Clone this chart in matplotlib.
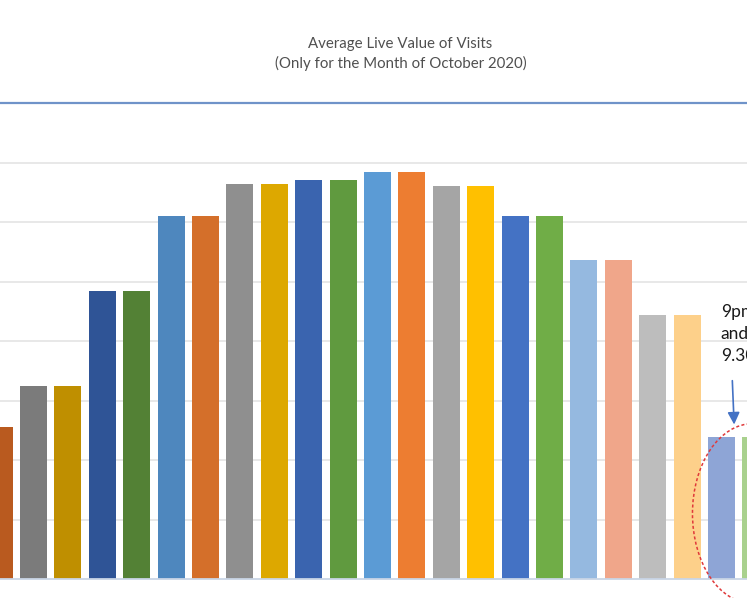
import matplotlib
matplotlib.use("Agg")
import matplotlib.pyplot as plt
from matplotlib.patches import Ellipse

# Half-hour time slots (only the visible part of the chart)
slots = ["10.30am", "11am", "11.30am", "12pm", "12.30pm", "1pm", "1.30pm",
         "2pm", "2.30pm", "3pm", "3.30pm", "4pm", "4.30pm", "5pm", "5.30pm",
         "6pm", "6.30pm", "7pm", "7.30pm", "8pm", "8.30pm", "9pm", "9.30pm"]
values = [2.55, 3.24, 3.24, 4.84, 4.84, 6.10, 6.10, 6.64, 6.64, 6.71, 6.71,
          6.84, 6.84, 6.61, 6.61, 6.10, 6.10, 5.36, 5.36, 4.44, 4.44, 2.39, 2.39]
colors = ["#B95A1F", "#7B7B7B", "#BF8F00", "#2F5496", "#538135",
          "#4E87BE", "#D46F2A", "#8F8F8F", "#DDA800", "#3A64AF", "#609A3F",
          "#5B9BD5", "#ED7D31", "#A5A5A5", "#FFC000", "#4472C4", "#70AD47",
          "#95B9E0", "#F0A68A", "#BDBDBD", "#FDD08A", "#8EA5D6", "#A9D18E"]
gridlines = [1, 2, 3, 4, 5, 6, 7]

title_lines = ["Average Live Value of Visits", "(Only for the Month of October 2020)"]
note = "9pm\nand\n9.30"

fig = plt.figure(figsize=(7.47, 5.98), dpi=100)
ax = fig.add_axes([0, 0, 1, 1])
ax.set_xlim(0.026, 21.74)
ax.set_ylim(-0.319, 9.731)
ax.axis("off")

for g in gridlines:
    ax.axhline(g, color="#E6E6E6", lw=1.3, zorder=0)
ax.axhline(0, color="#C9D5E6", lw=1.3, zorder=3)
ax.axhline(8, color="#6F93C9", lw=1.6, zorder=0)

x = list(range(len(values)))
ax.bar(x, values, width=0.785, color=colors, zorder=2)

fig.text(0.536, 0.927, title_lines[0], ha="center", va="center",
         fontsize=10.8, color="#505050", family="Lato")
fig.text(0.536, 0.894, title_lines[1], ha="center", va="center",
         fontsize=10.8, color="#505050", family="Lato")

# annotation
ax.text(20.98, 4.12, note, ha="left", va="center", fontsize=12.5,
        color="#1A1A1A", family="Lato", linespacing=1.45)
ax.annotate("", xy=(21.37, 2.55), xytext=(21.31, 3.38),
            arrowprops=dict(arrowstyle="-|>", color="#4472C4", lw=1.2,
                            mutation_scale=18))
ell = Ellipse((21.9, 1.1), width=3.49, height=3.02, fill=False,
              edgecolor="#E0393A", lw=1.1, ls=(0, (2, 1.5)), zorder=4)
ax.add_patch(ell)

fig.savefig("out.png", dpi=100)
